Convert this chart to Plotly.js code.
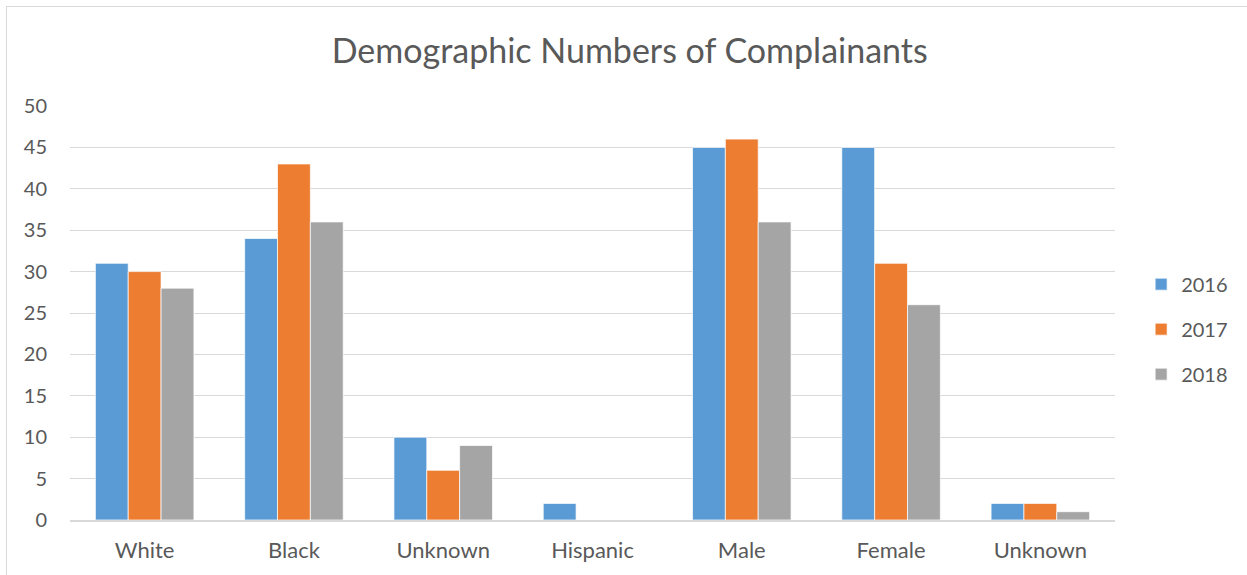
<!DOCTYPE html>
<html>
<head>
<meta charset="utf-8">
<script src="https://cdn.plot.ly/plotly-3.0.1.min.js"></script>
<style>
html,body{margin:0;padding:0;background:#fff;}
#wrap{position:relative;width:1247px;height:575px;overflow:hidden;}
#frame{position:absolute;left:6px;top:6px;width:1260px;height:600px;border:1px solid #d9d9d9;box-sizing:border-box;}
#chart{position:absolute;left:0;top:0;width:1247px;height:575px;}
</style>
</head>
<body>
<div id="wrap"><div id="frame"></div><div id="chart"></div></div>
<script>
const categories = ["White", "Black", "Unknown", "Hispanic", "Male", "Female", "Unknown"];
const seriesNames = ["2016", "2017", "2018"];
const values2016 = [31, 34, 10, 2, 45, 45, 2];
const values2017 = [30, 43, 6, 0, 46, 31, 2];
const values2018 = [28, 36, 9, 0, 36, 26, 1];
const yTicks = [0, 5, 10, 15, 20, 25, 30, 35, 40, 45, 50];

const colors = ["#5b9bd5", "#ed7d31", "#a5a5a5"];
const positions = categories.map((c, i) => i);
const allValues = [values2016, values2017, values2018];

const traces = allValues.map((vals, k) => ({
  type: "bar",
  name: seriesNames[k],
  x: positions,
  y: vals,
  legendgroup: "g" + k,
  marker: {color: colors[k], line: {color: "#ffffff", width: 0.7}},
  hoverinfo: "y"
}));

const font = "Lato, Open Sans, sans-serif";
const layout = {
  width: 1247, height: 575,
  paper_bgcolor: "rgba(0,0,0,0)",
  plot_bgcolor: "rgba(0,0,0,0)",
  margin: {l: 70, r: 132, t: 106, b: 55},
  barmode: "group",
  bargap: 0.34,
  bargroupgap: 0,
  title: {text: "Demographic Numbers of Complainants", x: 0.505, xanchor: "center", y: 0.912, yanchor: "middle",
          font: {family: font, size: 34, color: "#595959"}},
  xaxis: {
    tickmode: "array", tickvals: positions, ticktext: categories,
    range: [-0.5, categories.length - 0.5],
    showgrid: false, zeroline: false,
    showline: true, linecolor: "#d9d9d9", linewidth: 1.5,
    ticks: "", tickfont: {family: font, size: 22, color: "#595959"},
    ticklabelstandoff: 10
  },
  yaxis: {
    range: [0, 50], tickmode: "array", tickvals: yTicks,
    showgrid: true, gridcolor: "#d9d9d9", gridwidth: 1,
    zeroline: false, showline: false, ticks: "",
    tickfont: {family: font, size: 20, color: "#595959"},
    ticklabelstandoff: 22
  },
  showlegend: true,
  legend: {
    x: 1.025, xanchor: "left", y: 0.461, yanchor: "middle",
    font: {family: font, size: 20, color: "#595959"},
    traceorder: "grouped", tracegroupgap: 16,
    itemwidth: 30, bgcolor: "rgba(0,0,0,0)"
  }
};

Plotly.newPlot("chart", traces, layout, {displayModeBar: false, staticPlot: true});
</script>
</body>
</html>
